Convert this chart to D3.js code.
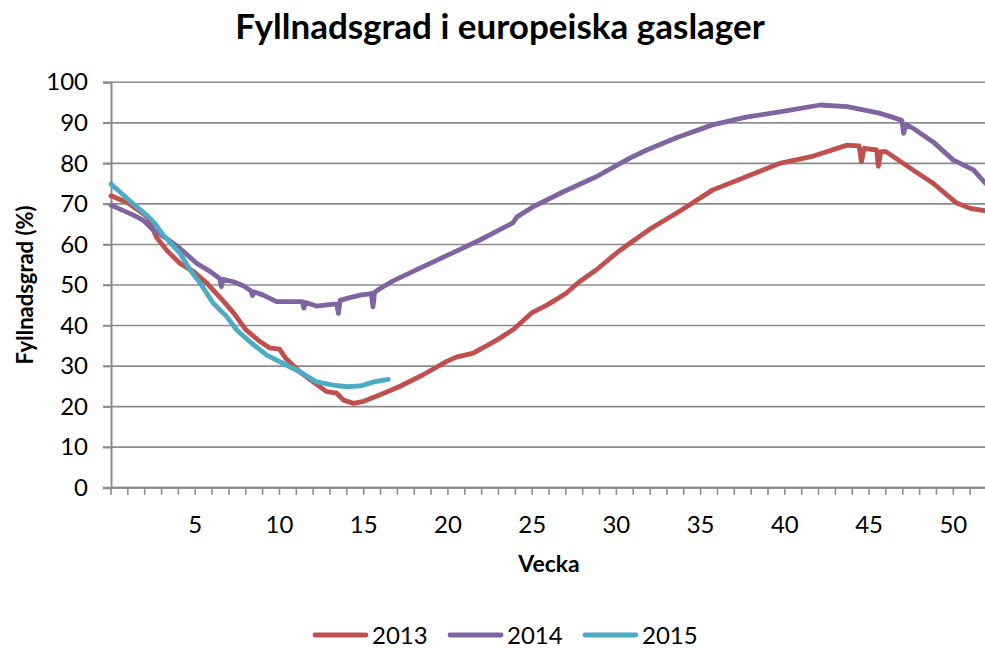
<!DOCTYPE html>
<html>
<head>
<meta charset="utf-8">
<script src="https://cdn.jsdelivr.net/npm/d3@7"></script>
<style>
  body { margin: 0; background: #fff; }
  text { font-family: Lato, "Open Sans", sans-serif; fill: #000; }
</style>
</head>
<body>
<div id="chart"></div>
<script>
// Fyllnadsgrad (%) per vecka
const weeks2013 = [0, 1, 2, 2.2, 2.7, 3.3, 4.1, 4.9, 5.7, 6.7, 7.3, 8.0, 8.8, 9.4, 10.0, 10.4, 11.2, 12.0, 12.8, 13.4, 13.8, 14.4, 15.0, 15.9, 17.1, 18.5, 19.9, 20.5, 21.5, 22.9, 23.9, 25.0, 25.9, 27.0, 27.8, 28.8, 30.1, 30.8, 32.0, 33.8, 35.7, 37.7, 39.7, 41.7, 43.7, 44.4, 44.55, 44.7, 45.45, 45.55, 45.7, 46.0, 47.6, 48.8, 50.2, 51.0, 51.9];
const values2013 = [72.0, 70.3, 67.3, 66.5, 61.8, 58.6, 55.3, 53.3, 50.4, 45.9, 43.0, 39.0, 36.2, 34.5, 34.2, 31.8, 28.6, 26.1, 23.7, 23.3, 21.6, 20.8, 21.3, 22.8, 24.9, 27.8, 31.1, 32.2, 33.2, 36.4, 39.1, 43.2, 45.1, 47.9, 50.8, 53.7, 58.2, 60.3, 63.8, 68.3, 73.4, 76.7, 80.0, 81.8, 84.5, 84.3, 80.4, 83.7, 83.3, 79.3, 82.9, 82.9, 78.4, 75.1, 70.2, 68.9, 68.3];

const weeks2014 = [0, 1.3, 1.9, 2.5, 3.3, 4.1, 5.1, 5.9, 6.45, 6.55, 6.65, 7.26, 7.85, 8.3, 8.4, 8.5, 9.04, 9.83, 10.6, 11.35, 11.45, 11.55, 12.2, 13.2, 13.4, 13.5, 13.6, 14.0, 14.8, 15.45, 15.55, 15.65, 16.0, 16.75, 17.9, 19.9, 21.9, 23.85, 24.1, 25.06, 26.85, 28.8, 30.8, 31.8, 33.6, 35.7, 37.7, 39.7, 42.1, 43.7, 45.6, 46.6, 46.95, 47.05, 47.2, 47.6, 48.8, 50.0, 51.2, 51.9];
const values2014 = [69.7, 67.3, 66.0, 63.6, 61.5, 59.0, 55.3, 53.3, 51.6, 49.6, 51.4, 50.8, 49.8, 48.6, 47.4, 48.3, 47.5, 45.9, 45.9, 45.9, 44.3, 45.7, 44.8, 45.3, 45.3, 43.0, 46.2, 46.7, 47.5, 47.9, 44.6, 48.2, 49.2, 51.0, 53.3, 57.2, 61.1, 65.3, 66.8, 69.3, 73.0, 76.7, 81.3, 83.3, 86.4, 89.5, 91.4, 92.7, 94.4, 94.0, 92.4, 91.1, 90.6, 87.4, 89.5, 88.7, 85.3, 80.8, 78.4, 75.1];

const weeks2015 = [0, 1.3, 2.1, 2.6, 3.1, 4.1, 4.7, 5.3, 6.07, 6.87, 7.46, 8.25, 9.24, 10.2, 11.2, 12.2, 13.2, 14.0, 14.8, 15.6, 16.46];
const values2015 = [74.9, 70.1, 67.3, 65.2, 62.3, 57.8, 53.7, 50.4, 45.5, 42.2, 38.9, 36.0, 32.7, 30.7, 28.6, 26.1, 25.3, 24.9, 25.1, 26.1, 26.7];

const seriesNames = ["2013", "2014", "2015"];
const seriesColors = ["#C0504D", "#8064A2", "#4BACC6"];
const yTicks = [0, 10, 20, 30, 40, 50, 60, 70, 80, 90, 100];
const xLabels = [5, 10, 15, 20, 25, 30, 35, 40, 45, 50];
const xMinorTicks = d3.range(0, 52);

const series = [
  { name: seriesNames[0], color: seriesColors[0], data: weeks2013.map((w, i) => [w, values2013[i]]) },
  { name: seriesNames[1], color: seriesColors[1], data: weeks2014.map((w, i) => [w, values2014[i]]) },
  { name: seriesNames[2], color: seriesColors[2], data: weeks2015.map((w, i) => [w, values2015[i]]) }
];

const W = 985, H = 648;
const svg = d3.select("#chart").append("svg").attr("width", W).attr("height", H);

const x = d3.scaleLinear().domain([0, 52]).range([111, 987]);
const y = d3.scaleLinear().domain([0, 100]).range([487.7, 82.3]);

const grey = "#8c8c8c";

// gridlines
svg.append("g").selectAll("line").data(yTicks).enter().append("line")
  .attr("x1", 103).attr("x2", W)
  .attr("y1", d => y(d)).attr("y2", d => y(d))
  .attr("stroke", grey).attr("stroke-width", d => d === 0 ? 2 : 1.6);

// y axis
const yAxis = svg.append("g").attr("transform", "translate(111,0)")
  .call(d3.axisLeft(y).tickValues(yTicks).tickSize(8).tickPadding(15));
yAxis.select(".domain").attr("stroke", grey).attr("stroke-width", 2);
yAxis.selectAll(".tick line").attr("stroke", grey).attr("stroke-width", 1.6);
yAxis.selectAll(".tick text").attr("font-size", 24).attr("font-family", "Lato").attr("fill", "#000");

// x axis minor ticks
svg.append("g").selectAll("line").data(xMinorTicks).enter().append("line")
  .attr("x1", d => x(d)).attr("x2", d => x(d))
  .attr("y1", y(0)).attr("y2", y(0) + 7)
  .attr("stroke", grey).attr("stroke-width", 1.6);
svg.append("line").attr("x1", x(0)).attr("x2", W).attr("y1", y(0)).attr("y2", y(0))
  .attr("stroke", grey).attr("stroke-width", 2);
svg.append("g").selectAll("text").data(xLabels).enter().append("text")
  .attr("x", d => x(d)).attr("y", 533)
  .attr("text-anchor", "middle").attr("font-size", 24)
  .text(d => d);

// lines
const line = d3.line().x(d => x(d[0])).y(d => y(d[1]));
svg.append("g").selectAll("path").data(series).enter().append("path")
  .attr("d", d => line(d.data))
  .attr("fill", "none")
  .attr("stroke", d => d.color)
  .attr("stroke-width", 4.8)
  .attr("stroke-linejoin", "round")
  .attr("stroke-linecap", "round");

// title
svg.append("text").attr("x", 500).attr("y", 39).attr("text-anchor", "middle")
  .attr("font-size", 35).attr("font-weight", "bold")
  .text("Fyllnadsgrad i europeiska gaslager");

// axis titles
svg.append("text").attr("x", 549).attr("y", 572).attr("text-anchor", "middle")
  .attr("font-size", 23).attr("font-weight", "bold").text("Vecka");
svg.append("text").attr("transform", "translate(33,285) rotate(-90)")
  .attr("text-anchor", "middle").attr("font-size", 22).attr("font-weight", "bold")
  .text("Fyllnadsgrad (%)");

// legend
const legendX = [313, 448, 583];
const legend = svg.append("g").selectAll("g").data(series).enter().append("g")
  .attr("transform", (d, i) => `translate(${legendX[i]},635)`);
legend.append("line").attr("x1", 2).attr("x2", 53).attr("y1", 0).attr("y2", 0)
  .attr("stroke", d => d.color).attr("stroke-width", 4.8).attr("stroke-linecap", "round");
legend.append("text").attr("x", 59).attr("y", 9).attr("font-size", 24).text(d => d.name);
</script>
</body>
</html>
